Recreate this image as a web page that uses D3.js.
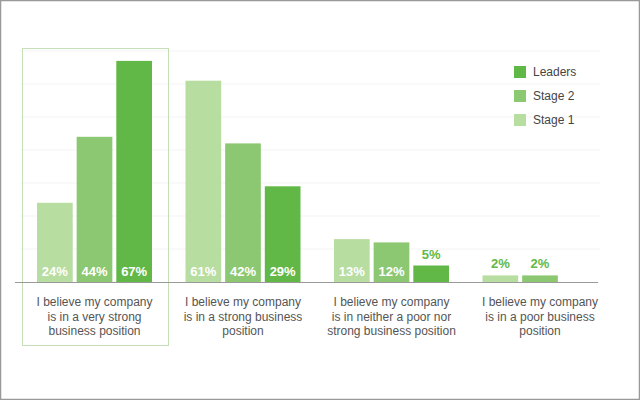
<!DOCTYPE html>
<html><head><meta charset="utf-8">
<script src="https://cdn.jsdelivr.net/npm/d3@7"></script>
<style>body{margin:0;background:#fff}svg{display:block;font-family:Helvetica,Arial,"Liberation Sans",sans-serif}</style>
</head><body><svg id="chart" width="640" height="400"></svg>
<script>
// chart data
var categories = [
  ["I believe my company", "is in a very strong", "business position"],
  ["I believe my company", "is in a strong business", "position"],
  ["I believe my company", "is in neither a poor nor", "strong business position"],
  ["I believe my company", "is in a poor business", "position"]
];
var series = ["Stage 1", "Stage 2", "Leaders"];
var stage1 = [24, 61, 13, 2];
var stage2 = [44, 42, 12, 2];
var leaders = [67, 29, 5, null];
var colors = ["#b8dda0", "#8cc872", "#62b846"];

var svg = d3.select("#chart");
svg.append("rect").attr("x", 0.5).attr("y", 0.5).attr("width", 639).attr("height", 399)
  .attr("fill", "none").attr("stroke", "#999").attr("stroke-width", 1.5);

var base = 282;
var y = d3.scaleLinear().domain([0, 10]).range([base, base - 33]);
var x0 = d3.scaleBand().domain(d3.range(4)).range([22, 616]);
var x1 = d3.scaleBand().domain(d3.range(3)).range([15, 130]).paddingInner(0.1);

// gridlines
svg.selectAll(".grid").data(d3.range(10, 80, 10)).join("line")
  .attr("x1", 20).attr("x2", 600).attr("y1", d => y(d)).attr("y2", d => y(d))
  .attr("stroke", "#f3f3f3");

// highlight frame around first group
svg.append("rect").attr("x", 22.5).attr("y", 48.5).attr("width", 146).attr("height", 297)
  .attr("fill", "none").attr("stroke", "#c6dfb8");

var all = [stage1, stage2, leaders];
var groups = svg.selectAll(".g").data(categories).join("g")
  .attr("transform", (d, i) => "translate(" + x0(i) + ",0)");

groups.each(function(cat, i) {
  var g = d3.select(this);
  all.forEach(function(vals, s) {
    var v = vals[i];
    if (v == null) return;
    g.append("rect").attr("x", x1(s)).attr("y", y(v)).attr("width", x1.bandwidth())
      .attr("height", base - y(v)).attr("fill", colors[s]);
    var inside = base - y(v) > 25;
    g.append("text").attr("x", x1(s) + x1.bandwidth() / 2)
      .attr("y", inside ? base - 6 : y(v) - 7)
      .attr("text-anchor", "middle").attr("font-size", 13).attr("font-weight", "bold")
      .attr("fill", inside ? "#fff" : colors[2]).text(v + "%");
  });
  var t = g.append("text").attr("text-anchor", "middle").attr("font-size", 12).attr("fill", "#555");
  cat.forEach(function(line, k) {
    t.append("tspan").attr("x", 72.5).attr("y", 306 + k * 14.5).text(line);
  });
});

// baseline
svg.append("line").attr("x1", 15).attr("x2", 598).attr("y1", base + 0.5).attr("y2", base + 0.5)
  .attr("stroke", "#999");

// legend
var legend = series.slice().reverse();
svg.selectAll(".leg").data(legend).join("g")
  .attr("transform", (d, i) => "translate(514," + (66 + i * 24) + ")")
  .each(function(d, i) {
    var g = d3.select(this);
    g.append("rect").attr("width", 12).attr("height", 12).attr("fill", colors[2 - i]);
    g.append("text").attr("x", 19).attr("y", 10).attr("font-size", 12).attr("fill", "#444").text(d);
  });
</script></body></html>
